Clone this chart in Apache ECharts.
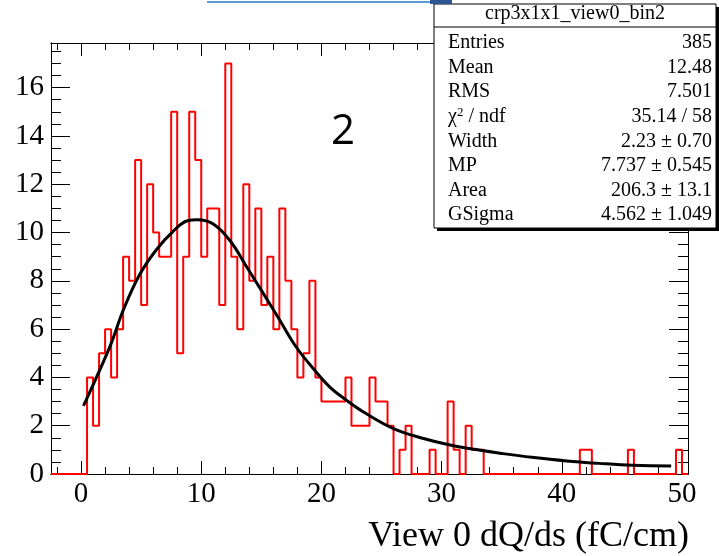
<!DOCTYPE html>
<html><head><meta charset="utf-8">
<script src="https://cdn.jsdelivr.net/npm/echarts@6/dist/echarts.min.js"></script>
<style>html,body{margin:0;padding:0;background:#fff}#c{width:719px;height:556px}</style>
</head><body><div id="c"></div>
<script>
// ---- data ----
const histMin = -2.5, histMax = 50.5, binWidth = 0.5;
const counts = [
  0,0,0,0,0,0,
  4,2,5,6,4,6,9,8,13,7,
  12,10,9,9,15,5,9,15,13,9,
  11,11,7,17,9,6,12,8,11,7,
  9,6,11,8,6,4,5,8,4,3,
  3,3,3,4,2,2,2,4,3,3,
  2,0,1,2,0,0,0,1,0,0,
  3,1,0,2,1,1,0,0,0,0,
  0,0,0,0,0,0,0,0,0,0,
  0,0,1,1,0,0,0,0,0,0,
  1,0,0,0,0,0,0,0,1,0
];
const fitX = [0.2, 1.3, 2.55, 3.5, 4.9, 6.3, 7.7, 8.8, 9.7, 11.0, 12.4, 13.8, 15.2, 16.5, 17.9, 19.3, 20.7, 22.1, 23.5, 26.0, 28.5, 30.7, 33.1, 35.0, 37.5, 40.4, 43.1, 45.9, 49.1];
const fitY = [2.82, 4.02, 5.46, 6.77, 8.28, 9.31, 10.07, 10.48, 10.53, 10.35, 9.66, 8.56, 7.45, 6.4, 5.26, 4.38, 3.6, 3.05, 2.57, 1.88, 1.47, 1.2, 0.99, 0.85, 0.69, 0.54, 0.44, 0.36, 0.33];
const xMajor = [0, 10, 20, 30, 40, 50];
const xMinor = [-2, 2, 4, 6, 8, 12, 14, 16, 18, 22, 24, 26, 28, 32, 34, 36, 38, 42, 44, 46, 48];
const yMajor = [0, 2, 4, 6, 8, 10, 12, 14, 16];
const yMinor = [0.5, 1, 1.5, 2.5, 3, 3.5, 4.5, 5, 5.5, 6.5, 7, 7.5, 8.5, 9, 9.5, 10.5, 11, 11.5, 12.5, 13, 13.5, 14.5, 15, 15.5, 16.5, 17, 17.5];
const yMax = 17.85;
const xTitle = 'View 0 dQ/ds (fC/cm)';
const panelLabel = '2';
const statsTitle = 'crp3x1x1_view0_bin2';
const statNames = ['Entries', 'Mean', 'RMS', '{n|χ}{s|2}{n| / ndf}', 'Width', 'MP', 'Area', 'GSigma'];
const statValues = ['385', '12.48', '7.501', '35.14 / 58', '2.23 ± 0.70', '7.737 ± 0.545', '206.3 ± 13.1', '4.562 ± 1.049'];

// ---- build ----
const histData = counts.map((c, i) => [histMin + i * binWidth, c]);
histData.push([histMax, counts[counts.length - 1]]);
const fitData = fitX.map((x, i) => [x, fitY[i]]);

const FONT = 'Liberation Serif';
function xAx(pos, ticks, len, labels) {
  return {
    type: 'value', position: pos, min: histMin, max: histMax,
    axisLine: {show: true, onZero: false, lineStyle: {color: '#000', width: 1}},
    axisTick: {show: true, inside: true, length: len, customValues: ticks, lineStyle: {color: '#000', width: 1}},
    axisLabel: labels ? {show: true, customValues: ticks, fontFamily: FONT, fontSize: 29, color: '#000', margin: 6} : {show: false},
    splitLine: {show: false}
  };
}
function yAx(pos, ticks, len, labels) {
  return {
    type: 'value', position: pos, min: 0, max: yMax,
    axisLine: {show: true, onZero: false, lineStyle: {color: '#000', width: 1}},
    axisTick: {show: true, inside: true, length: len, customValues: ticks, lineStyle: {color: '#000', width: 1}},
    axisLabel: labels ? {show: true, customValues: ticks, fontFamily: FONT, fontSize: 29, color: '#000', margin: 7} : {show: false},
    splitLine: {show: false}
  };
}

const statsGraphics = [];
const boxL = 434, boxR = 716, boxT = 4, boxB = 228;
statsGraphics.push({type: 'rect', z: 100, shape: {x: boxL + 3, y: boxT + 3, width: boxR - boxL, height: boxB - boxT}, style: {fill: '#000'}});
statsGraphics.push({type: 'rect', z: 101, shape: {x: boxL, y: boxT, width: boxR - boxL, height: boxB - boxT}, style: {fill: '#fff', stroke: '#000', lineWidth: 1}});
statsGraphics.push({type: 'line', z: 102, shape: {x1: boxL, y1: 27, x2: boxR, y2: 27}, style: {stroke: '#000', lineWidth: 1}});
statsGraphics.push({type: 'text', z: 103, x: (boxL + boxR) / 2, y: 14, style: {text: statsTitle, font: '20px "Liberation Serif"', fill: '#000', align: 'center', verticalAlign: 'middle'}});
statNames.forEach((n, i) => {
  const yy = 43 + i * 24.6;
  statsGraphics.push({type: 'text', z: 103, x: 448, y: yy, style: {text: n, font: '20px "Liberation Serif"', fill: '#000', align: 'left', verticalAlign: 'middle',
    rich: {n: {fontFamily: FONT, fontSize: 20, fill: '#000'}, s: {fontFamily: FONT, fontSize: 13, fill: '#000', verticalAlign: 'top', padding: [0, 0, 8, 0]}}}});
  statsGraphics.push({type: 'text', z: 103, x: 712, y: yy, style: {text: statValues[i], font: '20px "Liberation Serif"', fill: '#000', align: 'right', verticalAlign: 'middle'}});
});

const option = {
  animation: false,
  backgroundColor: '#fff',
  grid: {left: 51, right: 31, top: 43, bottom: 82, outerBoundsMode: 'none'},
  xAxis: [xAx('bottom', xMajor, 13, true), xAx('bottom', xMinor, 7, false), xAx('top', xMajor, 13, false), xAx('top', xMinor, 7, false)],
  yAxis: [yAx('left', yMajor, 19, true), yAx('left', yMinor, 10, false), yAx('right', yMajor, 19, false), yAx('right', yMinor, 10, false)],
  series: [
    {type: 'line', name: 'hist', xAxisIndex: 0, yAxisIndex: 0, data: histData, step: 'end', symbol: 'none',
     lineStyle: {color: '#ff0000', width: 2}, z: 3},
    {type: 'line', name: 'fit', xAxisIndex: 0, yAxisIndex: 0, data: fitData, smooth: 0.4, symbol: 'none',
     lineStyle: {color: '#000', width: 3}, z: 4}
  ],
  graphic: [
    {type: 'line', z: 90, shape: {x1: 207, y1: 2, x2: 430, y2: 2}, style: {stroke: '#5b9bd5', lineWidth: 2}},
    {type: 'rect', z: 104, shape: {x: 430, y: 0, width: 22, height: 4}, style: {fill: '#2f5597'}},
    {type: 'text', z: 50, x: 343, y: 132, style: {text: panelLabel, font: '42px "Open Sans"', fill: '#000', align: 'center', verticalAlign: 'middle'}},
    {type: 'text', z: 50, x: 689, y: 537, style: {text: xTitle, font: '36px "Liberation Serif"', fill: '#000', align: 'right', verticalAlign: 'middle'}}
  ].concat(statsGraphics)
};
const chart = echarts.init(document.getElementById('c'), null, {renderer: 'canvas'});
chart.setOption(option);
</script>
</body></html>
